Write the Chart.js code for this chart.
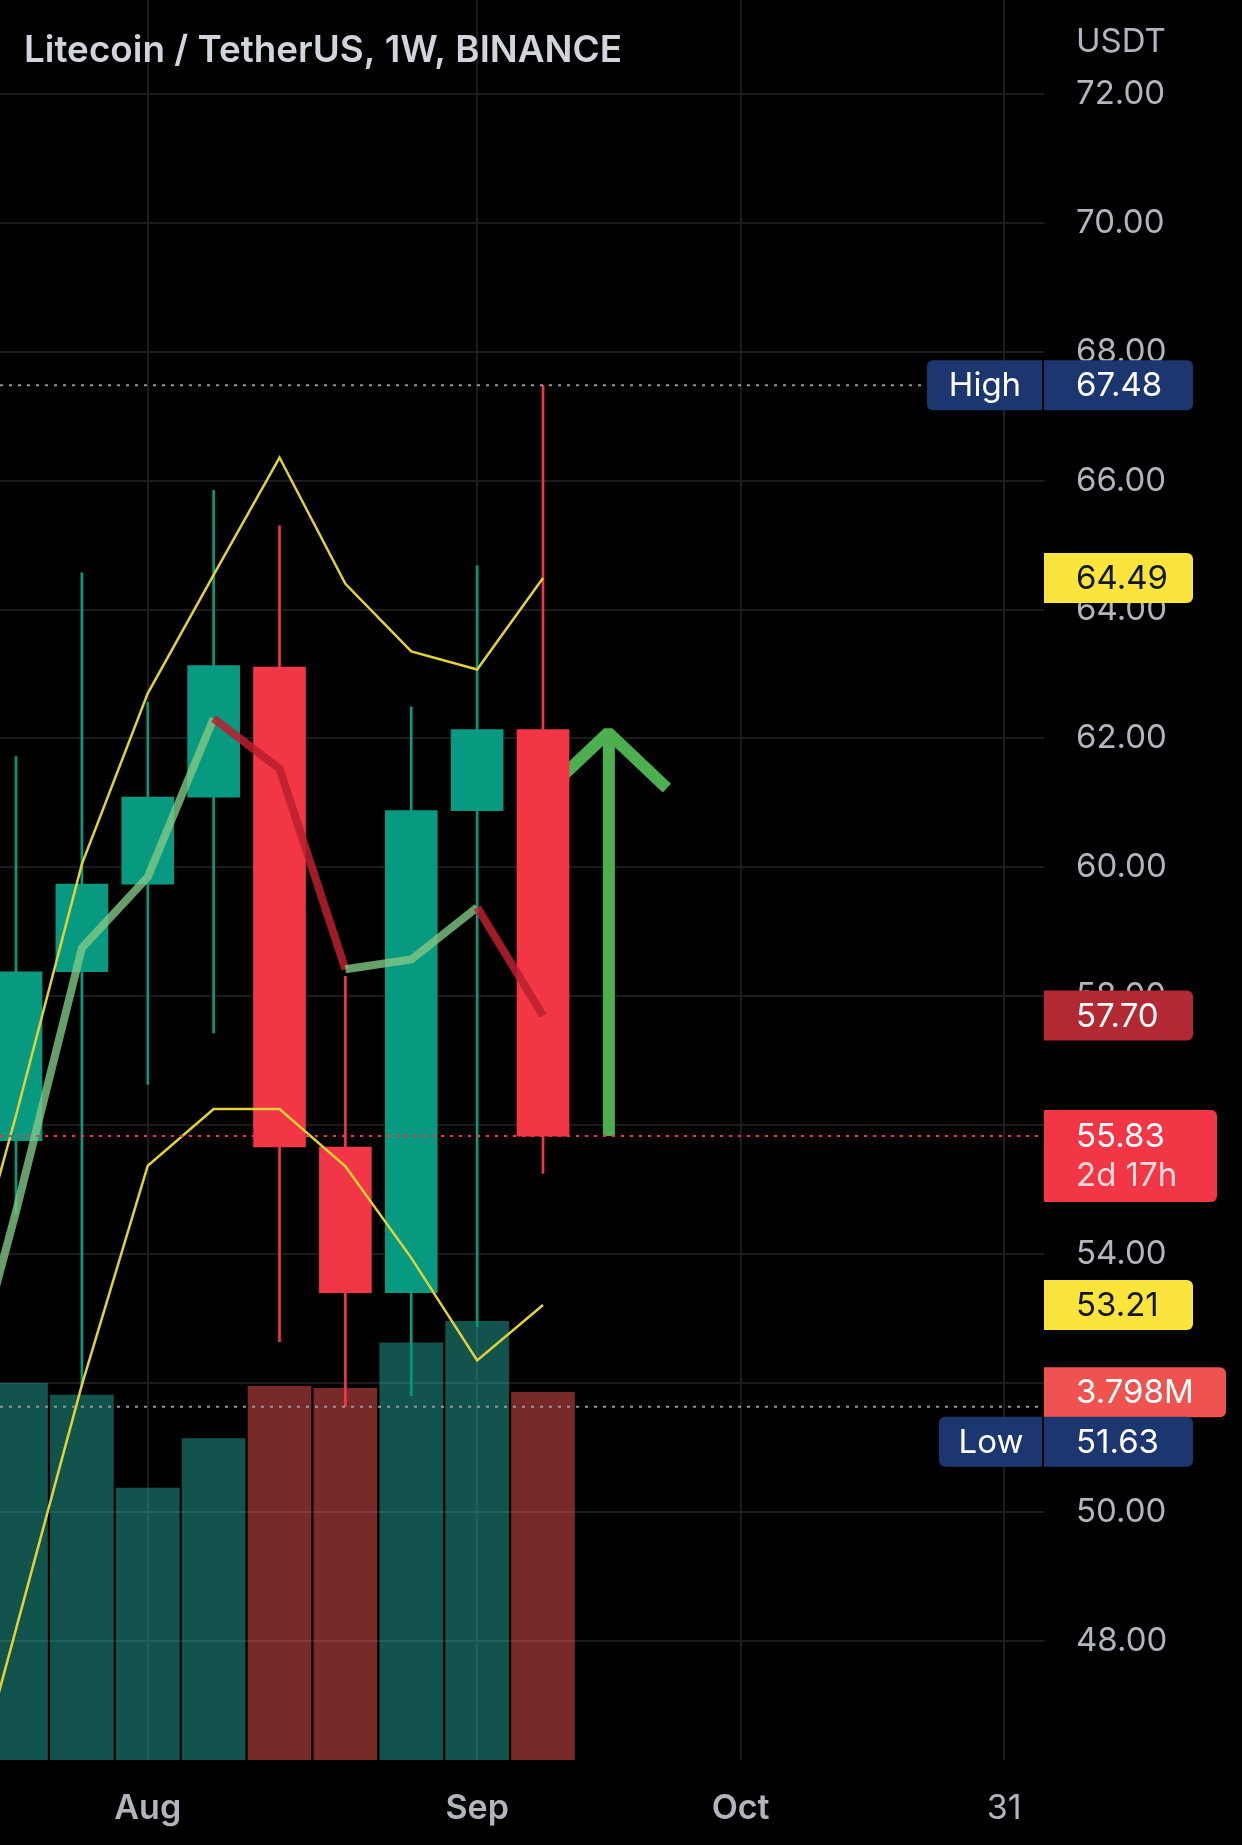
<!DOCTYPE html>
<html>
<head>
<meta charset="utf-8">
<title>LTC/USDT 1W</title>
<script src="https://cdn.jsdelivr.net/npm/chart.js@4.4.0/dist/chart.umd.min.js"></script>
<style>
  html, body { margin: 0; padding: 0; background: #000; }
  canvas { display: block; }
</style>
</head>
<body>
<canvas id="ltcChart" width="1242" height="1845"></canvas>
<script>
// weekly candles, index 0 = week of Jul 18
const weeks = ['Jul 18', 'Jul 25', 'Aug 1', 'Aug 8', 'Aug 15', 'Aug 22', 'Aug 29', 'Sep 5', 'Sep 12'];
const opens  = [55.76, 58.38, 59.74, 61.09, 63.11, 55.66, 53.40, 60.88, 62.14];
const highs  = [61.72, 64.57, 62.56, 65.85, 65.30, 58.31, 62.49, 64.68, 67.48];
const lows   = [54.62, 51.97, 56.63, 57.43, 52.64, 51.63, 51.80, 52.87, 55.25];
const closes = [58.38, 59.74, 61.09, 63.13, 55.66, 53.40, 60.88, 62.14, 55.83];
const volumes = [3.89, 3.77, 2.81, 3.32, 3.86, 3.84, 4.31, 4.53, 3.798]; // millions

// indicator lines start one week earlier (index -1) so they run off the left edge
const lineIdx = [-1, 0, 1, 2, 3, 4, 5, 6, 7, 8];
const upperBand = [52.43, 56.15, 60.05, 62.70, 64.54, 66.36, 64.40, 63.35, 63.07, 64.49];
const lowerBand = [44.39, 48.18, 51.97, 55.37, 56.25, 56.25, 55.36, 53.94, 52.35, 53.21];
const maLine    = [50.83, 54.66, 58.75, 59.85, 62.31, 61.53, 58.42, 58.57, 59.38, 57.70];

// hand drawn arrow (in price/week units)
const arrowShaftX = [9, 9];
const arrowShaftY = [55.83, 62.09];
const arrowHeadX = [8.10, 8.99, 9.88];
const arrowHeadY = [61.23, 62.09, 61.23];

// time axis
const tickIdx = [2, 7, 11, 15];
const tickText = ['Aug', 'Sep', 'Oct', '31'];
const tickBold = [true, true, true, false];

const highMark = 67.48;
const lowMark = 51.63;
const lastVol = '3.798M';
const countdown = '2d 17h';

const UP = '#089981', DOWN = '#f23645';
const gridColor = '#1c1c1f';
const textColor = '#b2b5be';
const FONT = 'Inter, Roboto, sans-serif';

const up = opens.map((o, i) => closes[i] >= o);
const idx = opens.map((_, i) => i);

const pts = (xs, ys) => xs.map((x, i) => ({ x: x, y: ys[i] }));

function dotted(ctx, x0, x1, yy, color) {
  ctx.save();
  ctx.strokeStyle = color;
  ctx.lineWidth = 2;
  ctx.setLineDash([3, 6]);
  ctx.beginPath();
  ctx.moveTo(x0, yy);
  ctx.lineTo(x1, yy);
  ctx.stroke();
  ctx.restore();
}

function box(ctx, x0, x1, y0, y1, color, radii) {
  ctx.fillStyle = color;
  ctx.beginPath();
  ctx.roundRect(x0, y0, x1 - x0, y1 - y0, radii);
  ctx.fill();
}

function priceTag(ctx, left, cy, w, bg, fg, text) {
  box(ctx, left, left + w, cy - 25, cy + 25, bg, [0, 6, 6, 0]);
  ctx.fillStyle = fg;
  ctx.fillText(text, left + 32, cy + 1);
}

// no edge padding: the plot runs right up to the canvas edges
function noPad(s) {
  s.paddingTop = 0;
  s.paddingBottom = 0;
  s.paddingLeft = 0;
  s.paddingRight = 0;
}

const overlay = {
  id: 'overlay',
  afterDatasetsDraw(chart) {
    const { ctx, chartArea: a, scales } = chart;
    const y = scales.y, yv = scales.yv;
    const L = a.right;
    ctx.save();
    ctx.font = '33px ' + FONT;
    ctx.textBaseline = 'middle';
    ctx.textAlign = 'left';

    const yHigh = y.getPixelForValue(highMark);
    const yLow = y.getPixelForValue(lowMark);
    const yClose = y.getPixelForValue(closes[closes.length - 1]);

    dotted(ctx, a.left, L - 117, yHigh, '#9598a1');
    dotted(ctx, a.left, L, yLow, '#9598a1');
    dotted(ctx, a.left, L, yClose, DOWN);

    // High
    box(ctx, L - 117, L - 2, yHigh - 25, yHigh + 25, '#1c3670', [6, 0, 0, 6]);
    ctx.fillStyle = '#ffffff';
    ctx.textAlign = 'center';
    ctx.fillText('High', L - 59, yHigh + 1);
    ctx.textAlign = 'left';
    priceTag(ctx, L, yHigh, 149, '#1c3670', '#ffffff', highMark.toFixed(2));

    priceTag(ctx, L, y.getPixelForValue(upperBand[upperBand.length - 1]), 149, '#fbe43c', '#131722',
      upperBand[upperBand.length - 1].toFixed(2));
    priceTag(ctx, L, y.getPixelForValue(maLine[maLine.length - 1]), 149, '#b22833', '#ffffff',
      maLine[maLine.length - 1].toFixed(2));

    // last price + countdown
    box(ctx, L, L + 173, yClose - 26, yClose + 66, DOWN, [0, 6, 6, 0]);
    ctx.fillStyle = '#ffffff';
    ctx.fillText(closes[closes.length - 1].toFixed(2), L + 32, yClose + 1);
    ctx.fillStyle = 'rgba(255,255,255,0.82)';
    ctx.fillText(countdown, L + 32, yClose + 40);

    priceTag(ctx, L, y.getPixelForValue(lowerBand[lowerBand.length - 1]), 149, '#fbe43c', '#131722',
      lowerBand[lowerBand.length - 1].toFixed(2));

    // volume
    priceTag(ctx, L, yv.getPixelForValue(volumes[volumes.length - 1]), 182, '#ef5350', '#ffffff', lastVol);

    // Low (pushed down to clear the volume tag)
    const yLowTag = yLow + 35;
    box(ctx, L - 105, L - 2, yLowTag - 25, yLowTag + 25, '#1c3670', [6, 0, 0, 6]);
    ctx.fillStyle = '#ffffff';
    ctx.textAlign = 'center';
    ctx.fillText('Low', L - 53, yLowTag + 1);
    ctx.textAlign = 'left';
    priceTag(ctx, L, yLowTag, 149, '#1c3670', '#ffffff', lowMark.toFixed(2));
    ctx.restore();
  },
  afterDraw(chart) {
    const { ctx, chartArea: a } = chart;
    ctx.save();
    ctx.textBaseline = 'alphabetic';
    ctx.fillStyle = '#d1d4dc';
    ctx.font = '600 37px ' + FONT;
    const title = 'Litecoin / TetherUS, 1W, BINANCE';
    const w = ctx.measureText(title).width;
    ctx.translate(24, 62);
    ctx.scale(598 / w, 1);
    ctx.fillText(title, 0, 0);
    ctx.restore();

    ctx.save();
    ctx.fillStyle = textColor;
    ctx.font = '33px ' + FONT;
    ctx.textBaseline = 'middle';
    ctx.fillText('USDT', a.right + 32, 42);
    ctx.restore();
  }
};

const ctx = document.getElementById('ltcChart').getContext('2d');
const ltcChart = new Chart(ctx, {
  type: 'bar',
  data: {
    datasets: [
      {
        label: 'Volume',
        data: pts(idx, volumes),
        yAxisID: 'yv',
        backgroundColor: up.map(u => u ? 'rgba(38,166,154,0.5)' : 'rgba(239,83,80,0.5)'),
        barThickness: 63,
        grouped: false,
        order: 10
      },
      {
        type: 'line',
        label: 'Arrow shaft',
        data: pts(arrowShaftX, arrowShaftY),
        borderColor: '#4caf50',
        borderWidth: 12,
        borderCapStyle: 'butt',
        pointRadius: 0,
        order: 9
      },
      {
        type: 'line',
        label: 'Arrow head',
        data: pts(arrowHeadX, arrowHeadY),
        borderColor: '#4caf50',
        borderWidth: 12,
        borderCapStyle: 'butt',
        borderJoinStyle: 'bevel',
        pointRadius: 0,
        order: 9
      },
      {
        label: 'Wick',
        data: idx.map(i => ({ x: i, y: [lows[i], highs[i]] })),
        backgroundColor: up.map(u => u ? UP : DOWN),
        barThickness: 2,
        grouped: false,
        order: 8
      },
      {
        label: 'Body',
        data: idx.map(i => ({ x: i, y: [opens[i], closes[i]] })),
        backgroundColor: up.map(u => u ? UP : DOWN),
        barThickness: 52,
        grouped: false,
        order: 7
      },
      {
        type: 'line',
        label: 'Upper',
        data: pts(lineIdx, upperBand),
        borderColor: '#e2d23a',
        borderWidth: 2.5,
        pointRadius: 0,
        tension: 0,
        order: 3
      },
      {
        type: 'line',
        label: 'Lower',
        data: pts(lineIdx, lowerBand),
        borderColor: '#e2d23a',
        borderWidth: 2.5,
        pointRadius: 0,
        tension: 0,
        order: 3
      },
      {
        type: 'line',
        label: 'MA',
        data: pts(lineIdx, maLine),
        borderWidth: 8,
        pointRadius: 0,
        tension: 0,
        borderColor: 'rgba(129,199,132,0.8)',
        segment: {
          borderColor: c => c.p1.parsed.y < c.p0.parsed.y ? 'rgba(186,32,46,0.85)' : 'rgba(129,199,132,0.8)'
        },
        order: 2
      }
    ]
  },
  options: {
    responsive: false,
    animation: false,
    events: [],
    layout: { padding: 0 },
    plugins: {
      legend: { display: false },
      tooltip: { enabled: false }
    },
    scales: {
      x: {
        type: 'linear',
        min: -0.243,
        max: 15.605,
        offset: false,
        grid: { color: gridColor, drawTicks: false, offset: false, lineWidth: 2 },
        border: { display: false },
        afterBuildTicks: s => { s.ticks = tickIdx.map(v => ({ value: v })); },
        afterFit: s => { s.height = 85; noPad(s); },
        ticks: {
          autoSkip: false,
          maxRotation: 0,
          padding: 28,
          color: textColor,
          font: c => ({ family: FONT, size: 34, weight: tickBold[c.index] ? '600' : '400' }),
          callback: (v, i) => tickText[i]
        }
      },
      y: {
        type: 'linear',
        position: 'right',
        min: 46.148,
        max: 73.46,
        grid: { color: gridColor, drawTicks: false, lineWidth: 2 },
        border: { display: false },
        afterFit: s => { s.width = 198; noPad(s); },
        ticks: {
          stepSize: 2,
          includeBounds: false,
          padding: 32,
          color: textColor,
          font: { family: FONT, size: 33 },
          callback: v => v.toFixed(2)
        }
      },
      yv: {
        type: 'linear',
        display: false,
        min: 0,
        max: 18.18
      }
    }
  },
  plugins: [overlay]
});
</script>
</body>
</html>
